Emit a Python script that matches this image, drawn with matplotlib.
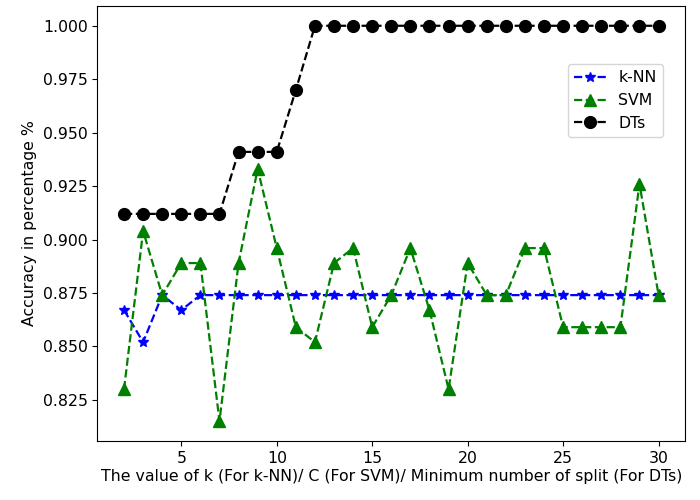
import matplotlib

matplotlib.use("Agg")
import matplotlib.pyplot as plt

plt.rcParams["font.size"] = 11.3

x_values = list(range(2, 31))

knn_acc = [0.867, 0.852, 0.874, 0.867] + [0.874] * 25

svm_acc = [
    0.830, 0.904, 0.874, 0.889, 0.889, 0.815, 0.889, 0.933, 0.896, 0.859,
    0.852, 0.889, 0.896, 0.859, 0.874, 0.896, 0.867, 0.830, 0.889, 0.874,
    0.874, 0.896, 0.896, 0.859, 0.859, 0.859, 0.859, 0.926, 0.874,
]

dt_acc = [0.912] * 6 + [0.941] * 3 + [0.970] + [1.000] * 19


def main() -> None:
    fig = plt.figure(figsize=(7, 5), dpi=100)
    ax = fig.add_axes([0.139, 0.118, 0.840, 0.870])

    ax.plot(x_values, knn_acc, "b--*", label="k-NN", markersize=7, lw=1.6)
    ax.plot(x_values, svm_acc, "g--^", label="SVM", markersize=8, lw=1.6)
    ax.plot(x_values, dt_acc, "k--o", label="DTs", markersize=8.5, lw=1.6)

    ax.set_xlabel("The value of k (For k-NN)/ C (For SVM)/ Minimum number of split (For DTs)",
                  labelpad=2)
    ax.set_ylabel("Accuracy in percentage %")
    ax.legend(loc="upper right", bbox_to_anchor=(0.975, 0.885))

    fig.savefig("out.png", dpi=100)
    plt.close(fig)


if __name__ == "__main__":
    main()
